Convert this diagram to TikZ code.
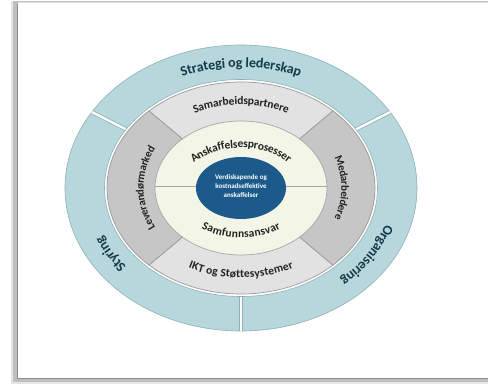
\documentclass[tikz,border=0pt]{standalone}
\usepackage{fontspec}
\setmainfont{Carlito}
\usetikzlibrary{decorations.text}
\definecolor{teal1}{HTML}{B6D7DB}
\definecolor{tealline}{HTML}{8FAFB3}
\definecolor{lgray}{HTML}{E2E2E2}
\definecolor{dgray}{HTML}{C6C6C6}
\definecolor{cream}{HTML}{F3F6E6}
\definecolor{navy}{HTML}{1C5A8C}
\definecolor{txt}{HTML}{222222}
\definecolor{ttxt}{HTML}{173B4A}
\tikzset{
  ringtext/.style n args={4}{decorate, decoration={text along path, text align=center, raise=#1,
    text={|\fontsize{#2}{#2}\selectfont\bfseries\color{#3}|#4}}},
  sepline/.style={black!40, line width=0.8pt}
}
\begin{document}
\begin{tikzpicture}[x=1pt,y=1pt]
\useasboundingbox (-241,-197) rectangle (247,188);
% frame with shadow
\fill[black!10] (-230,-196) rectangle (250,187);
\fill[black!25] (-228,-194) rectangle (250,186.5);
\fill[white] (-224,-190) rectangle (250,186);
\draw[black!45, line width=0.9pt] (-224,186) -- (-224,-190) -- (250,-190);
\draw[black!12, line width=0.5pt] (-224,186) -- (250,186);
% outer teal ring
\fill[teal1, draw=tealline, line width=0.6pt] (0,0) ellipse [x radius=176pt, y radius=143pt];
\begin{scope}
  \clip (0,0) ellipse [x radius=176pt, y radius=143pt];
  \foreach \a in {27,153,270} {
    \draw[tealline, line width=4pt] (0,0) -- (\a:250pt);
    \draw[white, line width=2.4pt] (0,0) -- (\a:250pt);
  }
\end{scope}
\fill[white, draw=tealline, line width=0.6pt] (0,0) ellipse [x radius=136.5pt, y radius=108.5pt];
% middle gray ring
\fill[lgray] (0,0) ellipse [x radius=134pt, y radius=106pt];
\begin{scope}
  \clip (0,0) ellipse [x radius=134pt, y radius=106pt];
  \fill[dgray] (0,0) -- (40:300pt) -- (0:300pt) -- (-40:300pt) -- cycle;
  \fill[dgray] (0,0) -- (140:300pt) -- (180:300pt) -- (220:300pt) -- cycle;
  \foreach \a in {40,140,220,320} \draw[sepline] (0,0) -- (\a:300pt);
\end{scope}
\draw[black!40, line width=0.7pt] (0,0) ellipse [x radius=134pt, y radius=106pt];
% cream disc
\fill[cream, draw=black!35, line width=0.7pt] (0,0) ellipse [x radius=86pt, y radius=67pt];
\draw[black!35, line width=0.7pt] (-85.9,2) -- (85.9,2);
% core
\fill[navy] (0,0) ellipse [x radius=45pt, y radius=31pt];
\node[text=white, align=center, font=\fontsize{7}{9}\selectfont\bfseries] (core) at (0,2) {Verdiskapende og\\kostnadseffektive\\anskaffelser};
% outer ring labels
\path[ringtext={-4.8pt}{14}{ttxt}{Strategi og lederskap}] (150:156pt and 125.5pt) arc[start angle=150, end angle=30, x radius=156pt, y radius=125.5pt];
\path[ringtext={-4.8pt}{14}{ttxt}{Styring}] (240:156pt and 125.5pt) arc[start angle=240, end angle=182, x radius=156pt, y radius=125.5pt];
\path[ringtext={-4.8pt}{14}{ttxt}{Organisering}] (2:156pt and 125.5pt) arc[start angle=2, end angle=-66, x radius=156pt, y radius=125.5pt];
% middle ring labels
\path[ringtext={-3.8pt}{11.5}{txt}{Samarbeidspartnere}] (140:110pt and 87pt) arc[start angle=140, end angle=40, x radius=110pt, y radius=87pt];
\path[ringtext={-3.8pt}{11.5}{txt}{IKT og Støttesystemer}] (220:110pt and 86pt) arc[start angle=220, end angle=320, x radius=110pt, y radius=86pt];
\path[ringtext={-3.6pt}{11}{txt}{Leverandørmarked}] (215:101pt and 86pt) arc[start angle=215, end angle=145, x radius=101pt, y radius=86pt];
\path[ringtext={-3.6pt}{11}{txt}{Medarbeidere}] (35:104pt and 86pt) arc[start angle=35, end angle=-35, x radius=104pt, y radius=86pt];
% inner labels
\path[ringtext={-3.8pt}{11.5}{txt}{Anskaffelsesprosesser}] (165:64pt and 44pt) arc[start angle=165, end angle=15, x radius=64pt, y radius=44pt];
\path[ringtext={-3.8pt}{11.5}{txt}{Samfunnsansvar}] (200:64pt and 46pt) arc[start angle=200, end angle=340, x radius=64pt, y radius=46pt];
\end{tikzpicture}
\end{document}
